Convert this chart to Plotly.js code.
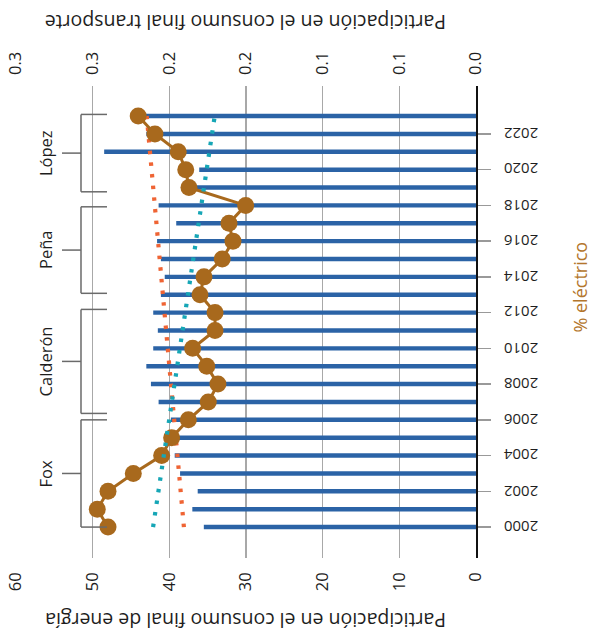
<!DOCTYPE html>
<html>
<head>
<meta charset="utf-8">
<script src="https://cdn.plot.ly/plotly-3.0.1.min.js"></script>
<style>html,body{margin:0;padding:0;background:#fff;}#chart{width:592px;height:644px;}</style>
</head>
<body>
<div id="chart"></div>
<script>
// ---- data ----
const years = [2000,2001,2002,2003,2004,2005,2006,2007,2008,2009,2010,2011,2012,2013,2014,2015,2016,2017,2018,2019,2020,2021,2022,2023];
// Participación en el consumo final de energía (%)
const energyShare = [35.5,37.0,36.3,38.6,39.3,40.0,39.8,41.4,42.4,43.0,42.1,41.5,42.1,41.1,40.6,41.1,41.6,39.1,41.4,37.0,36.1,48.5,43.0,43.5];
// % eléctrico — participación en el consumo final transporte
const electricShare = [0.240,0.247,0.240,0.2235,0.205,0.1985,0.1876,0.1746,0.1683,0.1756,0.1848,0.1702,0.1702,0.180,0.1774,0.1655,0.1585,0.1611,0.1502,0.1872,0.1893,0.1942,0.2094,0.2203];
// dotted trend lines (end points)
const trendYears = [2000, 2023];
const energyTrend = [38.1, 42.95];
const electricTrend = [0.2106, 0.1704];
// axis ticks
const energyTicks = [0,10,20,30,40,50,60];
const transportTicks = [0,0.05,0.1,0.15,0.2,0.25,0.3];
const transportTickText = ['0.0','0.1','0.1','0.2','0.2','0.3','0.3'];
const yearTicks = [2000,2002,2004,2006,2008,2010,2012,2014,2016,2018,2020,2022];
const yearTickText = ['2000','2002','2004','2006','2008','2010','2012','2014','2016','2018','2020','2022'];
// presidential periods
const presidents = ['Fox','Calderón','Peña','López'];
const periodStart = [2000.0, 2006.36, 2013.08, 2018.76];
const periodEnd = [2006.0, 2012.18, 2017.92, 2023.09];

// ---- traces ----
const traces = [
  {type:'bar', orientation:'h', x:energyShare, y:years, width:0.25,
   marker:{color:'#2b63a6'}, hoverinfo:'skip'},
  {type:'scatter', mode:'lines+markers', x:electricShare, y:years, xaxis:'x2', yaxis:'y',
   line:{color:'#a8691d', width:3}, marker:{color:'#a8691d', size:17}},
  {type:'scatter', mode:'lines', x:energyTrend, y:trendYears,
   line:{color:'#ef6434', width:4.2, dash:'3.5px,8.2px'}},
  {type:'scatter', mode:'lines', x:electricTrend, y:trendYears, xaxis:'x2', yaxis:'y',
   line:{color:'#16a6b6', width:4.2, dash:'3.5px,8.2px'}}
];

// ---- bracket shapes / labels ----
const shapes = [];
const annotations = [];
const bx = 0.1413, capX = 0.1978, tickX = 0.10, labX = 0.063;
const lc = {color:'#6a6a6a', width:1.5};
presidents.forEach((p,i)=>{
  const s = periodStart[i], e = periodEnd[i], m = (s+e)/2;
  shapes.push({type:'line', xref:'paper', yref:'y', x0:bx, x1:bx, y0:s, y1:e, line:lc});
  shapes.push({type:'line', xref:'paper', yref:'y', x0:bx, x1:capX, y0:s, y1:s, line:lc});
  shapes.push({type:'line', xref:'paper', yref:'y', x0:bx, x1:capX, y0:e, y1:e, line:lc});
  shapes.push({type:'line', xref:'paper', yref:'y', x0:tickX, x1:bx, y0:m, y1:m, line:lc});
  annotations.push({xref:'paper', yref:'y', x:labX, y:m, text:p, showarrow:false, textangle:-90,
    xanchor:'center', yanchor:'middle', font:{size:16.5, color:'#1e1e1e'}});
});
// upside-down year labels on the right axis
yearTicks.forEach((yr,i)=>{
  annotations.push({xref:'paper', yref:'y', x:1.098, y:yr, text:yearTickText[i], showarrow:false,
    textangle:180, xanchor:'center', yanchor:'middle', font:{size:15, color:'#1e1e1e'}});
});
annotations.push({xref:'paper', yref:'paper', x:0.5, y:1.135, text:'Participación en el consumo final transporte',
  showarrow:false, textangle:180, xanchor:'center', yanchor:'middle', font:{size:19.5, color:'#1e1e1e'}});
annotations.push({xref:'paper', yref:'paper', x:0.5, y:-0.134, text:'Participación en el consumo final de energía',
  showarrow:false, textangle:180, xanchor:'center', yanchor:'middle', font:{size:19.5, color:'#1e1e1e'}});
annotations.push({xref:'paper', yref:'paper', x:1.226, y:0.575, text:'% eléctrico',
  showarrow:false, textangle:-90, xanchor:'center', yanchor:'middle', font:{size:18, color:'#b3762c'}});

const layout = {
  width:592, height:644,
  margin:{l:16, r:116, t:86, b:86, pad:0},
  paper_bgcolor:'#fff', plot_bgcolor:'#fff',
  font:{family:'Open Sans, sans-serif', color:'#1e1e1e', size:16},
  showlegend:false,
  xaxis:{range:[60,0], tickvals:energyTicks, tickangle:-90, showgrid:true, gridcolor:'#a8a8a8', gridwidth:1.3,
    zeroline:false, showline:false, ticks:'', ticklabelstandoff:10, tickfont:{size:16.5}, fixedrange:true},
  xaxis2:{overlaying:'x', side:'top', range:[0.3,0], tickvals:transportTicks, ticktext:transportTickText,
    tickangle:-90, showgrid:false, zeroline:false, showline:false, ticks:'', ticklabelstandoff:10, tickfont:{size:16.5}},
  yaxis:{range:[1998.27,2024.68], side:'right', showline:true, linecolor:'#111', linewidth:1.5,
    ticks:'outside', ticklen:13, tickcolor:'#999', tickwidth:1.3, tickvals:yearTicks, showticklabels:false,
    showgrid:false, zeroline:false},
  shapes:shapes, annotations:annotations
};

Plotly.newPlot('chart', traces, layout, {staticPlot:true, displayModeBar:false});
</script>
</body>
</html>
